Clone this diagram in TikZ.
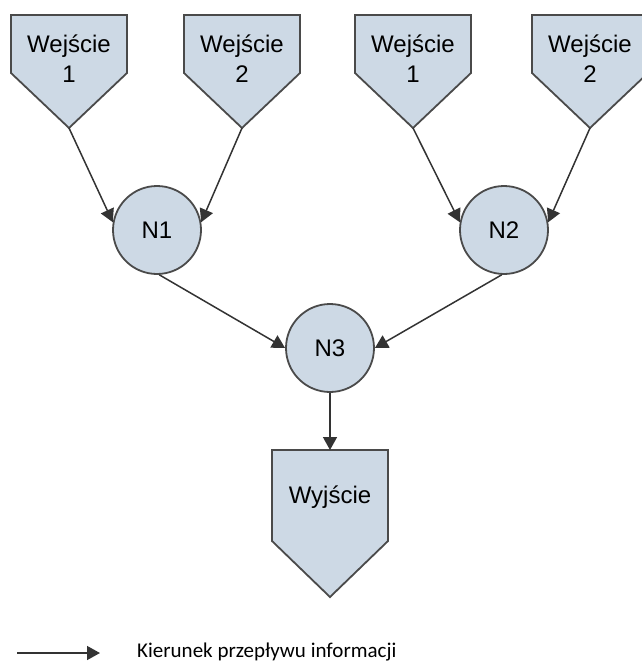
\documentclass[tikz,border=0pt]{standalone}
\usepackage{fontspec}
\setmainfont{Liberation Sans}
\newfontfamily\legendfont{Carlito}
\usetikzlibrary{arrows.meta}
\definecolor{boxfill}{HTML}{CDD9E5}
\definecolor{boxline}{HTML}{4A4A4A}
\definecolor{arrowcol}{HTML}{333333}
\tikzset{
  shapestyle/.style={draw=boxline, fill=boxfill, line width=1.8pt, line join=miter},
  lbl/.style={align=center, font=\fontsize{24}{30}\selectfont, inner sep=0pt},
  neuron/.style={circle, draw=boxline, fill=boxfill, line width=1.8pt,
                 minimum size=88pt, inner sep=0pt, font=\fontsize{24}{30}\selectfont},
  flow/.style={draw=arrowcol, line width=1.5pt,
               -{Triangle[length=13pt,width=14pt]}},
}
% pentagon-shaped signal box: name, centre x, top y, text, shoulder depth
\newcommand\signalbox[5]{%
  \draw[shapestyle] (#2-58,#3) -- (#2+58,#3) -- (#2+58,#3+#5) -- (#2,#3+113)
        -- (#2-58,#3+#5) -- cycle;
  \node[lbl] (#1) at (#2,#3+#5*0.75) {#4};
  \coordinate (#1tip) at (#2,#3+113);
  \coordinate (#1top) at (#2,#3);
}
\begin{document}
\begin{tikzpicture}[x=1pt,y=-1pt]
\useasboundingbox (0,0) rectangle (641,666);

% input boxes
\signalbox{inA}{69}{15}{Wejście\\1}{58}
\signalbox{inB}{242}{15}{Wejście\\2}{58}
\signalbox{inC}{413}{15}{Wejście\\1}{58}
\signalbox{inD}{590}{15}{Wejście\\2}{58}

% neurons
\node[neuron] (N1) at (157,230) {N1};
\node[neuron] (N2) at (504,230) {N2};
\node[neuron] (N3) at (330,348) {N3};

% output box
\draw[shapestyle] (272,450) -- (388,450) -- (388,541) -- (330,597) -- (272,541) -- cycle;
\node[lbl] (out) at (330,497) {Wyjście};
\coordinate (outtop) at (330,450);

% connections
\draw[flow] (inAtip) -- (N1.170);
\draw[flow] (inBtip) -- (N1.10);
\draw[flow] (inCtip) -- (N2.170);
\draw[flow] (inDtip) -- (N2.10);
\draw[flow] (N1.-87) -- (N3.180);
\draw[flow] (N2.-93) -- (N3.0);
\draw[flow] (N3.south) -- (outtop);

% legend
\coordinate (legA) at (17,653);
\coordinate (legB) at (100,653);
\draw[flow] (legA) -- (legB);
\node[anchor=west, inner sep=0pt, font=\legendfont\fontsize{21}{25}\selectfont]
  (legtext) at (137,652) {Kierunek przepływu informacji};
\end{tikzpicture}
\end{document}
